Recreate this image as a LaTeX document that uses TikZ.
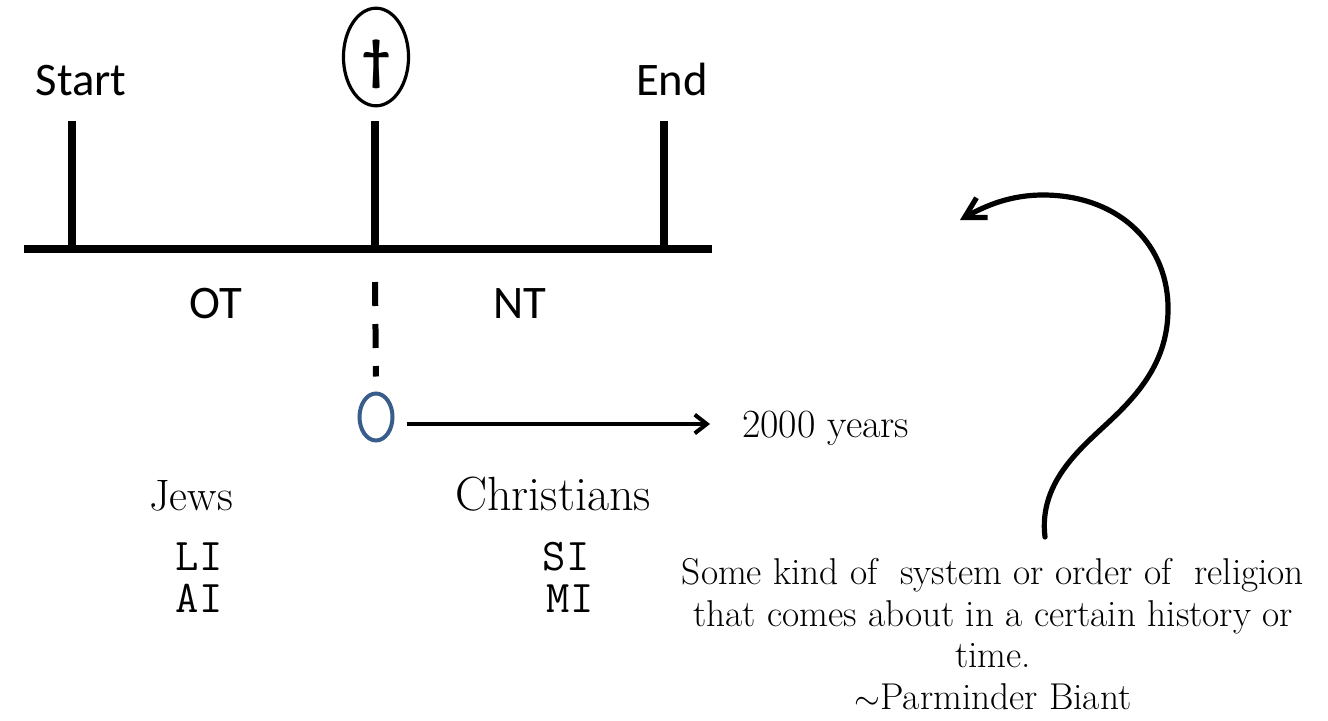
\documentclass[tikz,border=0pt]{standalone}
\usepackage{fontspec}
\newfontfamily\carlito{Carlito}
\usetikzlibrary{arrows.meta,shapes.geometric,calc}
\definecolor{outlineblue}{RGB}{56,93,138}
\tikzset{
  axisline/.style={line width=5.6pt},
  tickline/.style={line width=5.6pt},
  sanslabel/.style={font=\carlito\fontsize{35}{40}\selectfont, inner sep=0pt, anchor=base},
  seriflabel/.style={inner sep=0pt, anchor=base},
  handlabel/.style={font=\ttfamily\fontsize{34}{40}\selectfont, inner sep=0pt, anchor=base},
  dashline/.style={line width=4.5pt, dash pattern=on 18pt off 13.5pt},
  pointer/.style={line width=3pt, -{Straight Barb[length=9pt,width=14pt,line width=3pt]}},
  curvearrow/.style={line width=3.9pt, line cap=round, -{Straight Barb[length=15pt,width=17pt,line width=3.9pt]}}
}
\begin{document}
\begin{tikzpicture}[x=0.75pt,y=-0.75pt]
\path[use as bounding box] (0,0) rectangle (1328,721);

% time axis and its three markers
\coordinate (lineL) at (24,249);
\coordinate (lineR) at (712,249);
\coordinate (startTop) at (72,121);
\coordinate (startFoot) at (72,249);
\coordinate (midTop) at (375,121);
\coordinate (midFoot) at (375,249);
\coordinate (endTop) at (664,121);
\coordinate (endFoot) at (664,249);
\draw[axisline] (lineL) -- (lineR);
\draw[tickline] (startTop) -- (startFoot);
\draw[tickline] (midTop) -- (midFoot);
\draw[tickline] (endTop) -- (endFoot);

\node[sanslabel] (start) at (81,95) {Start};
\node[sanslabel] (end) at (672,95) {End};
\node[sanslabel] (ot) at (216,318) {OT};
\node[sanslabel] (nt) at (520,318) {NT};

% the cross above the middle marker, in its oval
\coordinate (crossCentre) at (376,57);
\draw[line width=2.4pt] (crossCentre) ellipse [x radius=24.4pt, y radius=36.6pt];
\node[inner sep=0pt, font=\carlito\bfseries\fontsize{42}{42}\selectfont] (dagger) at (376,64) {†};

% year zero
\node[draw=outlineblue, ellipse, line width=3pt, minimum width=24.75pt,
      minimum height=35.25pt, inner sep=0pt] (zero) at (376,417) {};
\draw[dashline] ($(midFoot)+(0,33)$) -- ($(zero.north)+(0,-15)$);

\node[seriflabel, anchor=base west, font=\fontsize{30}{36}\selectfont] (years) at (742,437) {2000 years};
\coordinate (a0) at ($(zero.east)+(12,7)$);
\path (a0 -| years.west) coordinate (a1);
\draw[pointer] (a0) -- ([xshift=-24pt]a1);

% the two groups
\node[seriflabel, font=\fontsize{33}{38}\selectfont] (jews) at (191,510) {Jews};
\node[seriflabel, font=\fontsize{36}{40}\selectfont] (christians) at (553,510) {Christians};
\node[handlabel] (li) at (199,570) {LI};
\node[handlabel] (ai) at (199,612) {AI};
\node[handlabel] (si) at (566,570) {SI};
\node[handlabel] (mi) at (570,612) {MI};

% definition and its curved pointer
\node[inner sep=0pt, anchor=north, align=center, font=\fontsize{28}{31.3}\selectfont] (quote) at (993,558)
  {Some kind of\ \ system or order of\ \ religion\\
   that comes about in a certain history or\\
   time.\\
   $\sim$Parminder Biant};
\coordinate (cstart) at (1045,537);
\coordinate (ctip) at (960,220);
\draw[curvearrow] (cstart) .. controls (1038,480) and (1085,445) .. (1113,418)
  .. controls (1150,383) and (1169,350) .. (1168,305)
  .. controls (1166,240) and (1115,195) .. (1043,195)
  .. controls (1010,195) and (985,206) .. (ctip);
\end{tikzpicture}
\end{document}
